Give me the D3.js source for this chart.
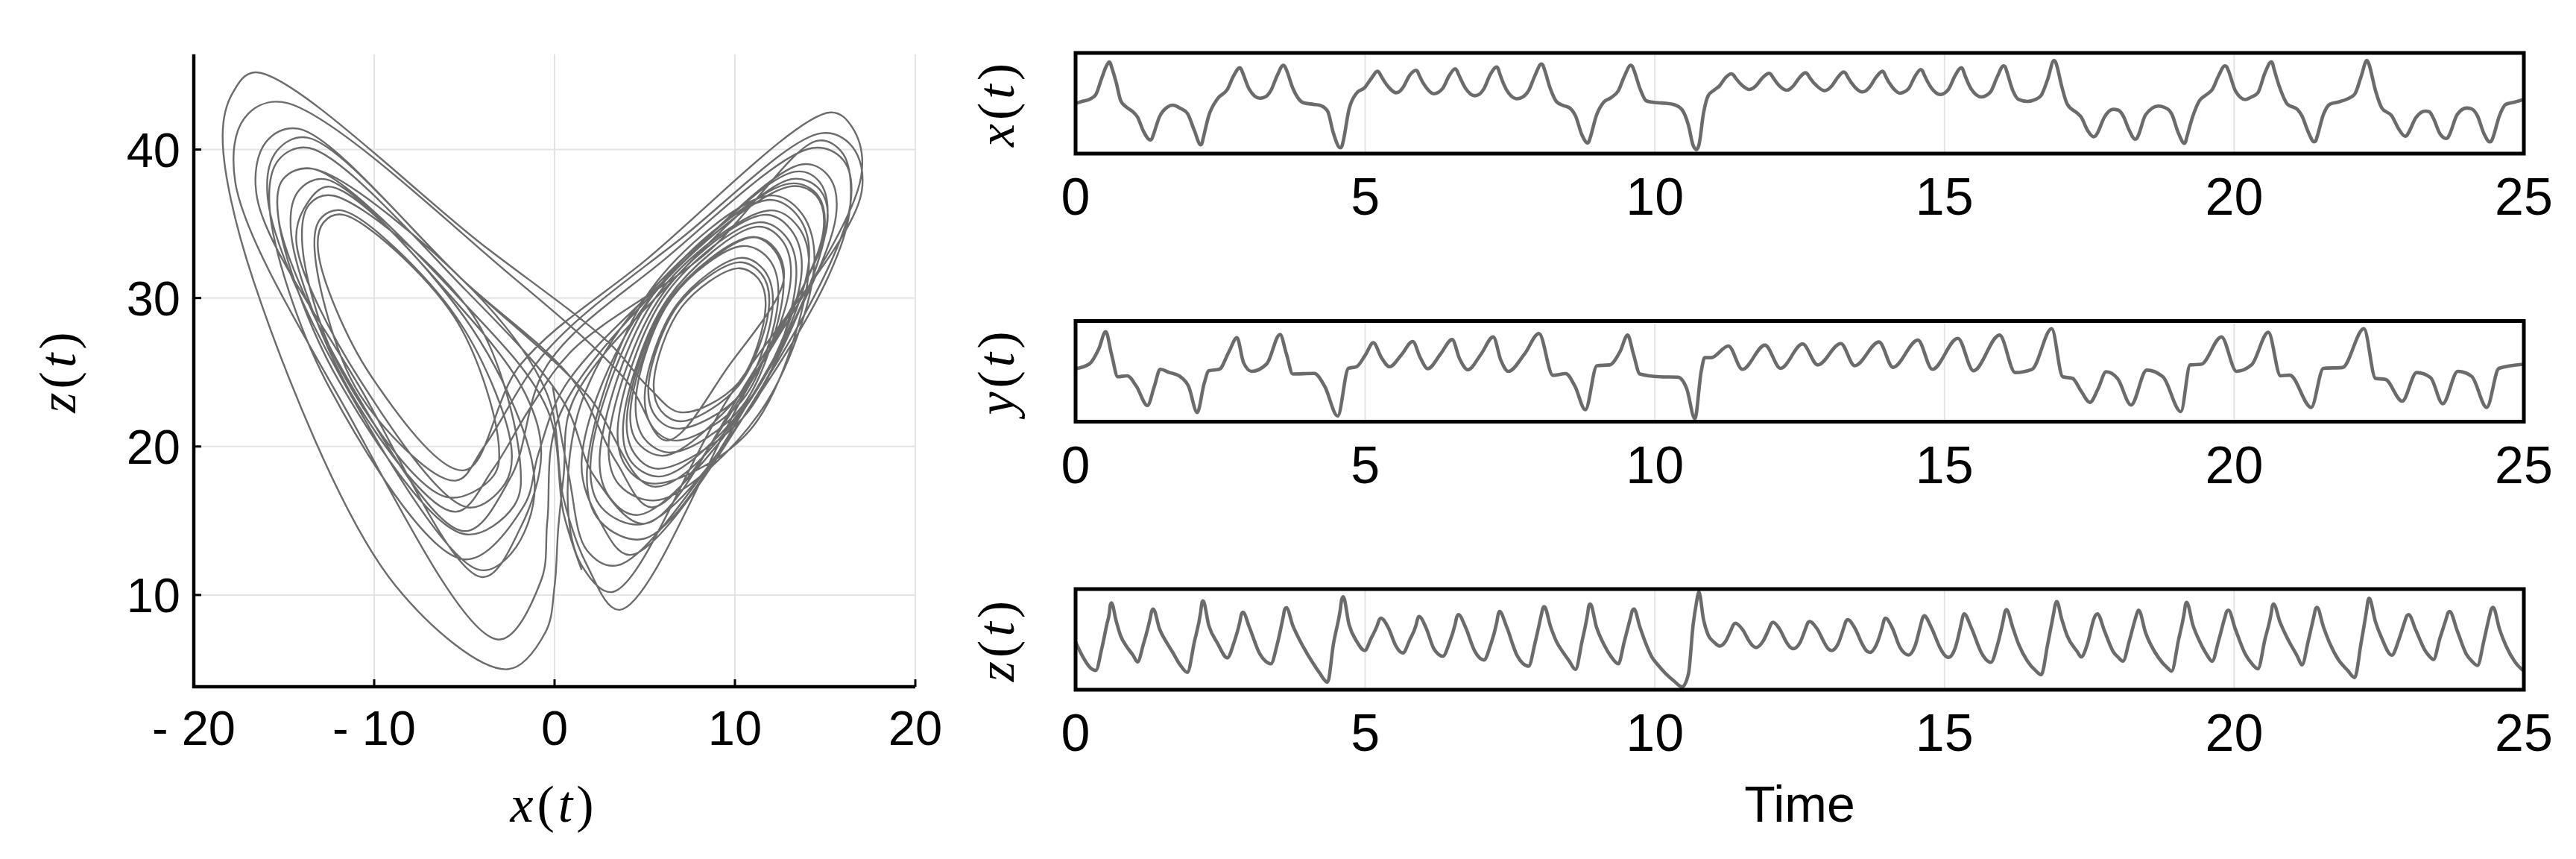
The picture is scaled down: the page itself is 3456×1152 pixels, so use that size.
<!DOCTYPE html>
<html><head><meta charset="utf-8">
<script src="https://cdn.jsdelivr.net/npm/d3@7"></script>
<style>body{margin:0;background:#fff}</style></head>
<body>
<svg id="c" width="3456" height="1152"></svg>
<script>
// ---- data: shared instants for x(t) and z(t) ----
const times = [
 0.00,0.12,0.26,0.35,0.45,0.54,0.583,0.60,0.62,0.70,0.78,0.87,
 0.99,1.07,1.17,1.29,1.315,1.34,1.45,1.58,1.68,1.80,1.93,2.05,
 2.16,2.18,2.20,2.30,2.45,2.62,2.73,2.835,2.86,2.89,3.00,3.18,
 3.28,3.37,3.48,3.587,3.61,3.64,3.75,3.93,4.10,4.21,4.35,4.45,
 4.57,4.595,4.62,4.72,4.85,4.99,5.10,5.21,5.24,5.27,5.40,5.53,
 5.59,5.65,5.77,5.88,5.905,5.93,6.05,6.18,6.26,6.34,6.45,6.555,
 6.58,6.61,6.73,6.89,6.97,7.05,7.16,7.27,7.295,7.32,7.44,7.62,
 7.72,7.82,7.93,8.04,8.065,8.09,8.20,8.305,8.42,8.52,8.63,8.74,
 8.84,8.86,8.885,8.99,9.12,9.24,9.37,9.47,9.584,9.61,9.64,9.74,
 9.85,9.94,10.05,10.19,10.33,10.47,10.58,10.66,10.72,10.74,10.76,10.84,
 10.92,11.02,11.12,11.22,11.32,11.355,11.39,11.51,11.63,11.69,11.75,11.86,
 11.97,12.005,12.04,12.15,12.27,12.33,12.39,12.50,12.60,12.635,12.67,12.80,
 12.93,12.99,13.05,13.16,13.26,13.295,13.33,13.45,13.58,13.645,13.71,13.82,
 13.93,13.955,13.98,14.10,14.23,14.305,14.38,14.49,14.59,14.62,14.65,14.77,
 14.93,15.00,15.07,15.18,15.29,15.315,15.34,15.46,15.64,15.72,15.80,15.91,
 16.02,16.045,16.07,16.18,16.28,16.43,16.57,16.67,16.78,16.89,16.915,16.94,
 17.02,17.12,17.29,17.36,17.47,17.57,17.605,17.64,17.76,17.91,18.00,18.08,
 18.19,18.29,18.32,18.35,18.47,18.69,18.86,18.92,19.04,19.14,19.16,19.18,
 19.29,19.40,19.52,19.62,19.73,19.84,19.87,19.90,20.02,20.19,20.30,20.41,
 20.53,20.64,20.66,20.68,20.79,20.92,21.09,21.17,21.28,21.38,21.405,21.43,
 21.54,21.65,21.80,21.96,22.08,22.19,22.29,22.31,22.33,22.44,22.55,22.72,
 22.84,22.95,22.98,23.01,23.14,23.30,23.37,23.44,23.55,23.66,23.69,23.72,
 23.85,24.01,24.10,24.20,24.31,24.41,24.44,24.47,24.58,24.69,24.85,25.00];
const xVals = [
 -0.1,0.8,1.8,3.5,9.9,15.2,16.4,16.0,14.6,8.4,1.0,-1.4,
 -3.4,-5.5,-11.0,-14.6,-14.2,-12.7,-5.3,-1.6,-0.74,-1.9,-4.0,-10.8,
 -16.5,-16.0,-14.2,-4.9,1.8,5.5,11.0,14.1,13.5,11.8,5.5,2.0,
 2.6,5.0,11.0,15.1,14.7,13.3,6.0,0.24,-0.4,-0.74,-3.1,-11.8,
 -17.7,-17.2,-15.1,-2.4,4.0,6.2,9.7,12.7,12.25,11.0,6.5,4.2,
 4.65,6.2,11.2,13.1,12.6,11.2,6.3,3.8,4.3,6.0,11.0,13.7,
 13.1,11.6,6.0,3.0,3.6,5.8,11.5,14.4,13.7,11.9,5.3,1.8,
 2.5,5.0,11.0,15.6,15.2,13.7,5.5,0.54,-0.9,-1.7,-5.0,-12.5,
 -15.8,-15.3,-13.6,-4.9,0.5,2.2,5.0,10.5,15.1,14.7,13.1,6.0,
 1.0,0.5,0.2,0.0,-0.5,-2.6,-8.8,-16.7,-18.4,-17.85,-16.6,-3.9,
 3.0,5.2,7.0,10.2,11.7,11.3,10.15,7.05,5.5,5.9,7.05,10.2,
 11.9,11.45,10.2,6.9,5.2,5.65,6.9,10.3,12.1,11.6,10.3,6.8,
 5.0,5.5,6.8,10.4,12.4,11.9,10.4,6.5,4.5,5.0,6.5,10.4,
 12.7,12.2,10.9,6.35,4.0,4.5,5.8,10.7,13.4,12.85,11.3,6.2,
 3.5,4.05,5.6,10.9,14.1,13.5,11.9,5.7,2.5,3.1,4.7,10.5,
 14.9,14.6,13.0,5.0,1.5,0.74,1.5,3.2,9.5,17.0,16.5,14.8,
 7.0,-0.4,-3.9,-5.5,-10.8,-13.3,-13.0,-11.8,-5.5,-2.4,-2.75,-4.8,
 -10.8,-14.3,-13.9,-12.5,-4.6,-1.1,-2.4,-4.2,-12.0,-15.9,-15.4,-13.7,
 -4.9,1.0,3.4,5.4,10.9,14.9,14.5,13.0,5.0,1.5,2.5,4.2,
 12.0,16.4,16.0,14.3,6.0,-0.4,-2.4,-5.0,-11.5,-15.3,-15.05,-13.4,
 -4.5,-0.4,0.5,1.8,3.6,10.5,17.0,16.5,15.3,5.0,-1.9,-5.0,
 -10.2,-13.1,-12.8,-11.7,-5.6,-3.1,-3.4,-6.0,-12.0,-14.0,-13.6,-12.3,
 -4.5,-1.9,-2.25,-5.0,-12.0,-15.3,-15.05,-13.4,-4.9,-0.4,0.5,1.5];
const zVals = [
 24.0,18.0,13.0,12.0,21.0,31.5,36.3,39.7,40.6,33.0,26.5,22.5,
 18.5,15.6,23.0,34.3,37.2,38.0,29.5,23.5,19.5,14.5,11.2,24.0,
 36.8,40.5,41.4,31.0,23.5,17.3,23.5,32.5,35.5,36.6,30.3,19.0,
 15.9,14.8,23.0,35.0,37.8,38.5,31.0,22.0,15.0,11.0,7.0,23.0,
 37.8,42.1,43.2,31.5,24.4,20.4,25.5,31.2,33.3,34.1,30.0,22.3,
 20.2,19.4,25.0,31.4,33.9,34.8,30.0,21.4,18.9,18.0,23.5,31.8,
 34.6,35.6,30.3,20.2,17.4,16.4,22.5,32.3,35.7,36.9,30.5,18.4,
 15.0,13.8,23.5,35.5,38.2,39.0,30.5,24.0,19.5,16.0,12.4,24.0,
 36.1,39.3,40.1,30.5,23.0,18.0,14.8,24.0,34.8,37.3,38.0,30.5,
 23.0,18.0,14.4,10.6,7.5,5.0,10.6,31.2,41.0,43.8,45.2,33.5,
 27.0,24.0,22.3,24.3,29.4,31.3,32.0,29.4,24.3,22.4,21.7,24.1,
 29.6,31.65,32.4,29.6,24.0,21.95,21.2,23.5,29.6,31.9,32.7,29.6,
 23.5,21.2,20.4,23.1,30.0,32.6,33.5,30.0,23.1,20.5,19.6,22.7,
 30.8,33.2,34.1,29.9,21.8,19.4,18.5,22.3,31.4,34.1,35.1,30.3,
 21.2,18.5,17.5,21.2,32.0,34.8,35.9,30.2,19.3,16.5,15.4,22.5,
 33.9,36.9,37.7,30.0,23.0,16.0,12.0,10.2,23.0,37.0,40.2,41.1,
 34.0,26.5,20.0,17.7,23.5,33.2,35.3,35.9,28.8,20.0,17.5,15.9,
 24.5,33.6,36.0,37.5,28.0,17.5,12.8,11.7,25.0,36.7,39.9,40.8,
 31.0,24.5,19.0,15.9,24.5,34.5,36.9,37.5,29.5,19.0,15.0,12.7,
 25.0,36.3,39.3,40.1,32.5,25.5,18.0,14.3,24.6,35.3,38.0,38.7,
 30.5,23.5,16.5,12.0,9.0,23.5,38.2,41.5,42.5,32.5,25.5,18.4,
 24.8,33.1,35.1,35.6,28.8,20.2,18.0,16.6,25.5,33.9,36.3,36.9,
 28.8,18.8,16.0,14.1,24.5,35.3,38.0,38.7,29.5,22.5,15.5,11.7];
// y(t), read separately
const yTimes = [0.00,0.24,0.40,0.52,0.62,0.73,0.89,1.05,1.24,1.36,1.46,1.62,1.79,1.95,2.10,2.22,2.30,2.48,2.65,2.785,2.90,3.04,3.30,3.53,3.64,3.75,4.12,4.30,4.525,4.71,4.85,5.00,5.14,5.28,5.42,5.62,5.82,5.95,6.08,6.30,6.50,6.63,6.77,7.00,7.21,7.34,7.47,7.75,8.00,8.24,8.46,8.62,8.80,9.00,9.22,9.40,9.53,9.63,9.74,10.08,10.40,10.55,10.69,10.80,10.86,10.97,11.27,11.51,11.90,12.17,12.55,12.81,13.21,13.45,13.87,14.11,14.54,14.79,15.23,15.50,15.95,16.22,16.51,16.85,17.04,17.21,17.36,17.51,17.65,17.79,17.99,18.22,18.49,18.77,19.08,19.24,19.43,19.78,20.04,20.30,20.59,20.80,20.96,21.33,21.54,21.87,22.24,22.44,22.61,22.90,23.15,23.39,23.60,23.86,24.10,24.36,24.57,25.00];
const yVals = [1.3,3.7,11.1,19.7,8.6,-2.7,-2.2,-7.4,-17.0,-7.4,1.0,-0.6,-2.3,-7.4,-20.4,-6.0,0.3,1.0,9.9,16.7,4.3,0.0,3.7,18.3,8.6,-1.3,-1.0,-7.4,-22.2,1.5,2.3,8.0,14.2,6.8,2.3,8.0,14.8,6.8,1.3,8.6,15.8,6.2,0.8,8.6,17.1,5.6,0.0,8.6,18.8,-2.0,-1.1,-7.4,-19.1,2.8,3.2,9.9,18.0,8.6,-1.3,-2.7,-2.9,-8.6,-23.5,0.0,6.8,6.8,12.6,1.0,13.0,1.5,13.6,3.2,13.8,2.8,14.6,2.0,15.5,1.0,16.4,0.3,18.0,-0.6,1.0,21.2,-2.7,-3.5,-9.9,-15.4,-8.7,-0.2,-3.7,-16.7,0.6,-2.7,-20.0,3.2,3.5,17.1,0.0,3.2,19.4,-2.2,-1.9,-17.9,1.5,1.9,21.2,-3.5,-4.0,-14.8,-0.6,-3.1,-16.1,0.0,-2.5,-17.9,1.5,3.5];
const timeTicks = [0,5,10,15,20,25];
const timeGrid = [5,10,15,20];
const phaseXTicks = [-20,-10,0,10,20];
const phaseZTicks = [10,20,30,40];

const svg = d3.select("#c");
svg.append("rect").attr("width",3456).attr("height",1152).attr("fill","#fff");
const LINE = "#6b6b6b", GRID = "#e4e4e4";
const SANS = "'Liberation Sans', Arial, Helvetica, sans-serif";
const SERIF = "'Liberation Serif', 'DejaVu Serif', serif";

function mathLabel(g, v, x, y, rot) {
  const t = g.append("text").attr("x", x).attr("y", y)
    .attr("text-anchor","middle").attr("dominant-baseline","central")
    .attr("font-family", SERIF).attr("font-size", 70).attr("letter-spacing", 5)
    .attr("fill","#000");
  if (rot) t.attr("transform", `rotate(-90 ${x} ${y})`);
  t.append("tspan").attr("font-style","italic").text(v);
  t.append("tspan").text("(");
  t.append("tspan").attr("font-style","italic").text("t");
  t.append("tspan").text(")");
}
const fmt = d => d < 0 ? "- " + Math.abs(d) : String(d);

// ---------------- phase plot ----------------
const px = d3.scaleLinear([-20,20],[260,1228]);
const pz = d3.scaleLinear([3.82,46.42],[921,72.7]);
const pg = svg.append("g");
pg.selectAll(".gx").data(phaseXTicks.filter(d=>d>-20)).join("line")
  .attr("x1",d=>px(d)).attr("x2",d=>px(d)).attr("y1",pz.range()[0]).attr("y2",pz.range()[1])
  .attr("stroke",GRID).attr("stroke-width",2);
pg.selectAll(".gz").data(phaseZTicks).join("line")
  .attr("x1",px(-20)).attr("x2",px(20)).attr("y1",d=>pz(d)).attr("y2",d=>pz(d))
  .attr("stroke",GRID).attr("stroke-width",2);
const phasePts = times.map((t,i)=>[xVals[i], zVals[i]]);
pg.append("path").datum(phasePts)
  .attr("d", d3.line().x(d=>px(d[0])).y(d=>pz(d[1])).curve(d3.curveCatmullRom.alpha(0.5)))
  .attr("fill","none").attr("stroke",LINE).attr("stroke-width",2.4).attr("stroke-linejoin","round");
pg.append("line").attr("x1",px(-20)).attr("x2",px(-20)).attr("y1",pz.range()[1]).attr("y2",pz.range()[0]+2)
  .attr("stroke","#000").attr("stroke-width",4.5);
pg.append("line").attr("x1",px(-20)-2).attr("x2",px(20)).attr("y1",pz.range()[0]).attr("y2",pz.range()[0])
  .attr("stroke","#000").attr("stroke-width",4.5);
pg.selectAll(".tx").data(phaseXTicks).join("line")
  .attr("x1",d=>px(d)).attr("x2",d=>px(d)).attr("y1",pz.range()[0]).attr("y2",pz.range()[0]-10)
  .attr("stroke","#000").attr("stroke-width",3);
pg.selectAll(".tz").data(phaseZTicks).join("line")
  .attr("x1",px(-20)).attr("x2",px(-20)+10).attr("y1",d=>pz(d)).attr("y2",d=>pz(d))
  .attr("stroke","#000").attr("stroke-width",3);
pg.selectAll(".lx").data(phaseXTicks).join("text")
  .attr("x",d=>px(d)).attr("y",pz.range()[0]+78).attr("text-anchor","middle")
  .attr("font-family",SANS).attr("font-size",65).text(fmt);
pg.selectAll(".lz").data(phaseZTicks).join("text")
  .attr("x",px(-20)-18).attr("y",d=>pz(d)+23).attr("text-anchor","end")
  .attr("font-family",SANS).attr("font-size",65).text(fmt);
mathLabel(pg, "x", 743, 1078, false);
mathLabel(pg, "z", 77, 497, true);

// ---------------- time series ----------------
const ts = d3.scaleLinear([0,25],[1443,3386]);
const panels = [
  {name:"x", top:71, dom:[-20,20], t:times, v:xVals},
  {name:"y", top:430.5, dom:[-25,25], t:yTimes, v:yVals},
  {name:"z", top:790, dom:[3.82,46.42], t:times, v:zVals}
];
const H = 135;
panels.forEach((p,k)=>{
  const g = svg.append("g");
  const ys = d3.scaleLinear(p.dom,[p.top+H, p.top]);
  const cid = "clip"+k;
  svg.append("clipPath").attr("id",cid).append("rect")
    .attr("x",ts(0)).attr("y",p.top).attr("width",ts(25)-ts(0)).attr("height",H);
  g.selectAll(".g").data(timeGrid).join("line")
    .attr("x1",d=>ts(d)).attr("x2",d=>ts(d)).attr("y1",p.top).attr("y2",p.top+H)
    .attr("stroke",GRID).attr("stroke-width",2);
  const pts = p.t.map((t,i)=>[t,p.v[i]]);
  g.append("path").datum(pts).attr("clip-path",`url(#${cid})`)
    .attr("d", d3.line().x(d=>ts(d[0])).y(d=>ys(d[1])).curve(d3.curveMonotoneX))
    .attr("fill","none").attr("stroke",LINE).attr("stroke-width",4.6).attr("stroke-linejoin","round");
  g.append("rect").attr("x",ts(0)).attr("y",p.top).attr("width",ts(25)-ts(0)).attr("height",H)
    .attr("fill","none").attr("stroke","#000").attr("stroke-width",5);
  g.selectAll(".l").data(timeTicks).join("text")
    .attr("x",d=>ts(d)).attr("y",p.top+H+82).attr("text-anchor","middle")
    .attr("font-family",SANS).attr("font-size",70).text(d=>d);
  mathLabel(g, p.name, 1336, p.top+H/2, true);
});
svg.append("text").attr("x",(ts(0)+ts(25))/2).attr("y",1102).attr("text-anchor","middle")
  .attr("font-family",SANS).attr("font-size",68).text("Time");
</script>
</body></html>
